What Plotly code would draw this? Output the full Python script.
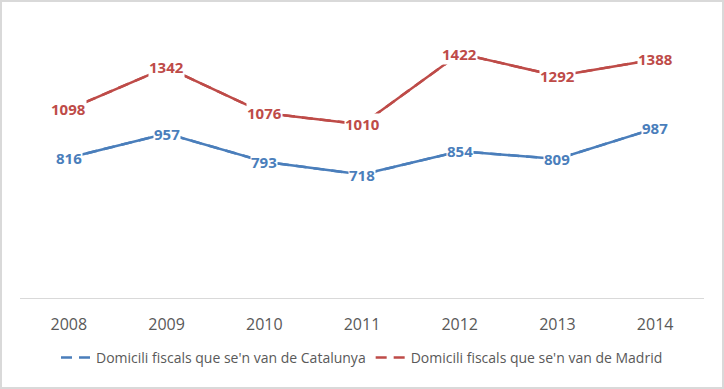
import plotly.graph_objects as go

years = ["2008", "2009", "2010", "2011", "2012", "2013", "2014"]
catalunya = [816, 957, 793, 718, 854, 809, 987]
madrid = [1098, 1342, 1076, 1010, 1422, 1292, 1388]
names = ["Domicili fiscals que se'n van de Catalunya",
         "Domicili fiscals que se'n van de Madrid"]
colors = ["#4a7ebb", "#be4b48"]

W, H = 724, 389
ml, mr, mt, mb = 20, 20, 23, 91
pw, ph = W - ml - mr, H - mt - mb

fig = go.Figure()
annotations = []
# dashed copies (legend appearance), hidden beneath the solid lines
for name, vals, col in zip(names, [catalunya, madrid], colors):
    fig.add_trace(go.Scatter(x=years, y=vals, mode="lines", name=name,
                             line=dict(color=col, width=2.5, dash="11px,7px"),
                             hoverinfo="skip"))
for name, vals, col in zip(names, [catalunya, madrid], colors):
    fig.add_trace(go.Scatter(x=years, y=vals, mode="lines", showlegend=False,
                             line=dict(color=col, width=2.5), hoverinfo="skip"))
    for i, yv in enumerate(vals):
        annotations.append(dict(x=i, y=yv, xref="x", yref="y", text=str(yv),
                                showarrow=False, bgcolor="white", borderpad=0,
                                font=dict(family="Open Sans", size=15, color=col,
                                          weight="bold")))

fig.update_layout(
    width=W, height=H,
    margin=dict(l=ml, r=mr, t=mt, b=mb),
    paper_bgcolor="white", plot_bgcolor="white",
    annotations=annotations,
    showlegend=True,
    legend=dict(orientation="h", x=0.5, xanchor="center",
                y=(298 - 358) / ph, yanchor="middle",
                font=dict(family="Open Sans", size=14, color="#595959"),
                tracegroupgap=0),
    xaxis=dict(type="category", showgrid=False, zeroline=False,
               showline=False, ticks="", ticklabelstandoff=15,
               tickfont=dict(family="Open Sans", size=16, color="#595959"),
               range=[-0.5, 6.5]),
    yaxis=dict(range=[0, 1600], showgrid=False, zeroline=True,
               zerolinecolor="#d9d9d9", zerolinewidth=1,
               showticklabels=False, showline=False, ticks=""),
    shapes=[dict(type="rect", xref="paper", yref="paper",
                 x0=(1 - ml) / pw, x1=(W - 1 - ml) / pw,
                 y0=-(H - 1 - mt - ph) / ph, y1=(mt - 1) / ph + 1,
                 line=dict(color="#d9d9d9", width=2), layer="below")],
)

fig.write_html("out.html", config={"displayModeBar": False},
               post_script="document.body.style.margin='0';document.body.style.overflow='hidden';")
